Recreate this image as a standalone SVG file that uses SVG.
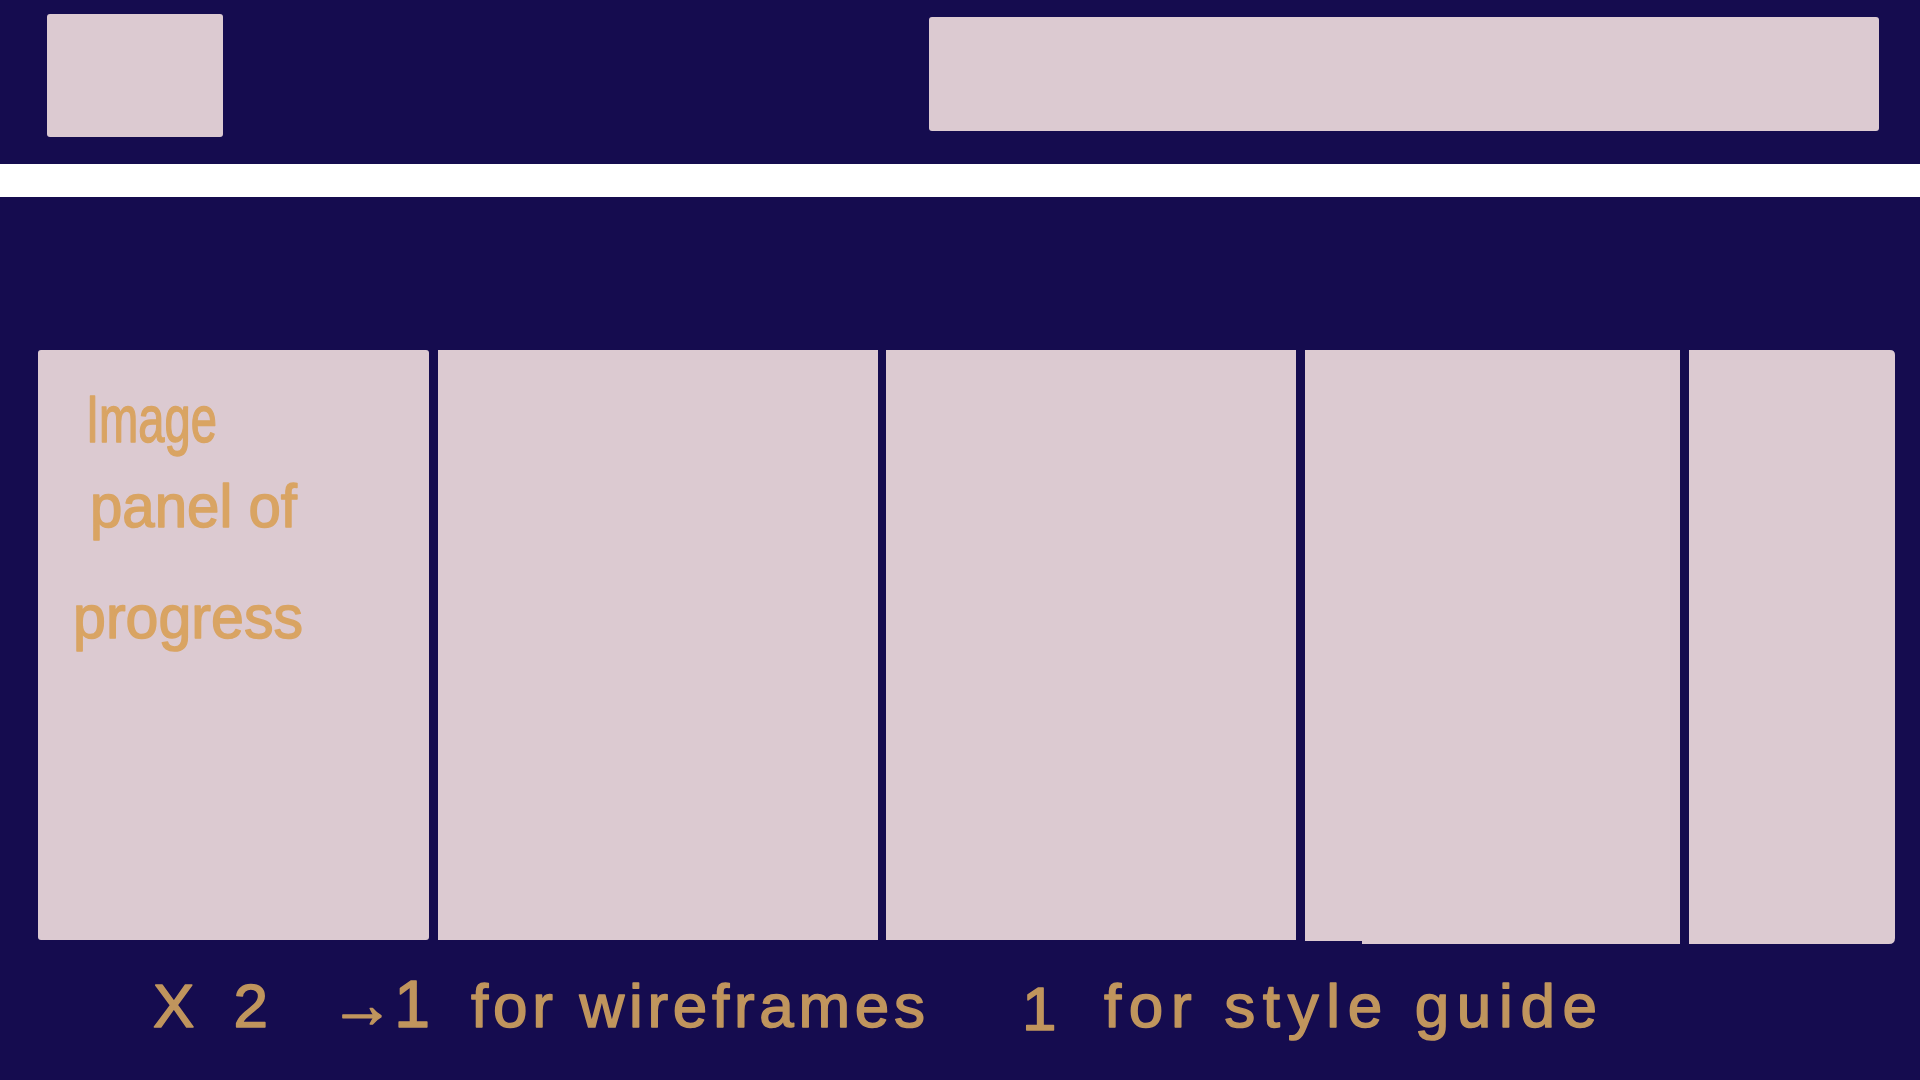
<svg xmlns="http://www.w3.org/2000/svg" width="1920" height="1080" viewBox="0 0 1920 1080">
  <style>
    .bg { fill: #150c4f; }
    .box { fill: #dccad1; }
    .band { fill: #ffffff; }
    .hand { font-family: "Liberation Sans", Arial, sans-serif; font-weight: normal; stroke-width: 1.5; stroke-linejoin: round; }
    .onpink { fill: #d9a463; stroke: #d9a463; }
    .ondark { fill: #c0955d; stroke: #c0955d; }
  </style>
  <rect class="bg" x="0" y="0" width="1920" height="1080"/>
  <g id="header">
    <g id="logo-box"><rect class="box" x="47" y="14" width="176" height="123" rx="3"/></g>
    <g id="nav-box"><rect class="box" x="929" y="17" width="950" height="114" rx="3"/></g>
  </g>
  <g id="divider"><rect class="band" x="0" y="164" width="1920" height="33"/></g>
  <g id="panels">
    <g id="panel-1">
      <rect class="box" x="38" y="350" width="391" height="590" rx="3"/>
      <text class="hand onpink" x="86" y="442" font-size="66" textLength="131" lengthAdjust="spacingAndGlyphs">Image</text>
      <text class="hand onpink" x="90" y="527" font-size="62" textLength="207" lengthAdjust="spacingAndGlyphs">panel of</text>
      <text class="hand onpink" x="73" y="638" font-size="62" textLength="230" lengthAdjust="spacingAndGlyphs">progress</text>
    </g>
    <g id="panel-2"><rect class="box" x="438" y="350" width="440" height="590"/></g>
    <g id="panel-3"><rect class="box" x="886" y="350" width="410" height="590"/></g>
    <g id="panel-4"><path class="box" d="M1305 350 H1680 V944 H1362 V941 H1305 Z"/></g>
    <g id="panel-5"><path class="box" d="M1689 350 H1890 Q1895 350 1895 355 V938 Q1895 944 1889 944 H1689 Z"/></g>
  </g>
  <g id="caption">
    <text class="hand ondark" x="153" y="1027" font-size="62" textLength="115" lengthAdjust="spacing">X 2</text>
    <text class="hand ondark" x="330" y="1027" font-size="66" textLength="100" lengthAdjust="spacingAndGlyphs">→1</text>
    <text class="hand ondark" x="471" y="1027" font-size="62" textLength="454" lengthAdjust="spacing">for wireframes</text>
    <text class="hand ondark" x="1022" y="1030" font-size="62">1</text>
    <text class="hand ondark" x="1104" y="1027" font-size="62" textLength="493" lengthAdjust="spacing">for style guide</text>
  </g>
</svg>
